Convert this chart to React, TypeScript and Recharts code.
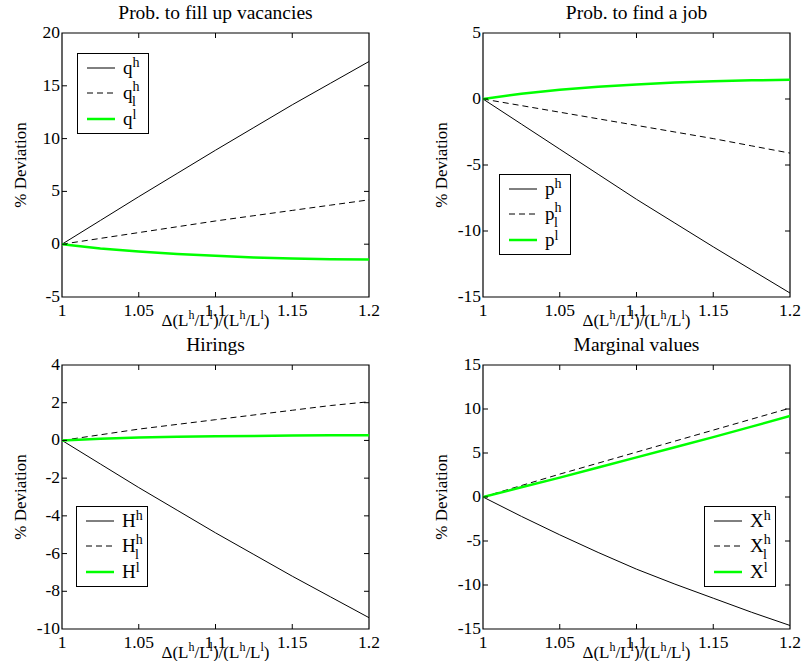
import React from 'react';
import { LineChart, Line, XAxis, YAxis, ReferenceArea } from 'recharts';

const xs = [1, 1.025, 1.05, 1.075, 1.1, 1.125, 1.15, 1.175, 1.2];
const xTicks = [1, 1.05, 1.1, 1.15, 1.2];

const qHigh = [0, 2.25, 4.5, 6.7, 8.9, 11.05, 13.2, 15.25, 17.3];
const qRel = [0, 0.55, 1.1, 1.65, 2.2, 2.7, 3.2, 3.7, 4.2];
const qLow = [0, -0.4, -0.7, -0.92, -1.1, -1.25, -1.35, -1.42, -1.45];

const pHigh = [0, -1.9, -3.8, -5.7, -7.6, -9.4, -11.2, -12.95, -14.7];
const pRel = [0, -0.5, -1.0, -1.5, -2.0, -2.5, -3.0, -3.55, -4.1];
const pLow = [0, 0.4, 0.7, 0.92, 1.1, 1.25, 1.35, 1.42, 1.45];

const hHigh = [0, -1.25, -2.5, -3.7, -4.9, -6.05, -7.2, -8.3, -9.4];
const hRel = [0, 0.3, 0.6, 0.85, 1.1, 1.35, 1.6, 1.85, 2.05];
const hLow = [0, 0.09, 0.15, 0.19, 0.22, 0.24, 0.26, 0.27, 0.28];

const xHigh = [0, -2.2, -4.3, -6.3, -8.2, -9.9, -11.5, -13.1, -14.6];
const xRel = [0, 1.3, 2.6, 3.85, 5.1, 6.35, 7.6, 8.85, 10.1];
const xLow = [0, 1.1, 2.2, 3.35, 4.5, 5.65, 6.8, 8.0, 9.2];

const ticksTL = [-5, 0, 5, 10, 15, 20];
const ticksTR = [-15, -10, -5, 0, 5];
const ticksBL = [-10, -8, -6, -4, -2, 0, 2, 4];
const ticksBR = [-15, -10, -5, 0, 5, 10, 15];

const titles = ['Prob. to fill up vacancies', 'Prob. to find a job', 'Hirings', 'Marginal values'];
const symbols = ['q', 'p', 'H', 'X'];

const FONT = '"Liberation Serif", "Times New Roman", serif';
const GREEN = '#00ff00';
const TXT: React.CSSProperties = { fontFamily: FONT };

const build = (a: number[], b: number[], c: number[]) =>
  xs.map((x, i) => ({ x, hi: a[i], rel: b[i], lo: c[i] }));

const fmt = (v: number) => String(v);

type Box = { l: number; r: number; t: number; b: number };

const makeXTick = (box: Box) => (props: any) => {
  const { x, payload } = props;
  const inner = payload.value !== 1 && payload.value !== 1.2;
  return (
    <g>
      {inner && <line x1={x} x2={x} y1={box.b} y2={box.b - 5} stroke="#000" strokeWidth={1} />}
      {inner && <line x1={x} x2={x} y1={box.t} y2={box.t + 5} stroke="#000" strokeWidth={1} />}
      <text x={x} y={box.b + 19} textAnchor="middle" fontSize={17.5} fill="#000" style={TXT}>
        {fmt(payload.value)}
      </text>
    </g>
  );
};

const makeYTick = (box: Box, ends: [number, number]) => (props: any) => {
  const { y, payload } = props;
  const inner = payload.value !== ends[0] && payload.value !== ends[1];
  return (
    <g>
      {inner && <line x1={box.l} x2={box.l + 5} y1={y} y2={y} stroke="#000" strokeWidth={1} />}
      {inner && <line x1={box.r} x2={box.r - 5} y1={y} y2={y} stroke="#000" strokeWidth={1} />}
      <text x={box.l - 2} y={y + 5} textAnchor="end" fontSize={17.5} fill="#000" style={TXT}>
        {fmt(payload.value)}
      </text>
    </g>
  );
};

const makeFrameLabel = (title: string) => (props: any) => {
  const vb = props.viewBox || {};
  const cx = vb.x + vb.width / 2;
  const cy = vb.y + vb.height / 2;
  const lx = vb.x - 36;
  const by = vb.y + vb.height + 29;
  return (
    <g style={TXT} fill="#000">
      <text x={cx} y={vb.y - 14} textAnchor="middle" fontSize={19.5} style={TXT}>{title}</text>
      <text x={lx} y={cy} textAnchor="middle" fontSize={17} style={TXT}
        transform={`rotate(-90 ${lx} ${cy})`}>% Deviation</text>
      <text x={cx} y={by} textAnchor="middle" fontSize={17} style={TXT}>
        Δ(L<tspan dy={-7} fontSize={12}>h</tspan>
        <tspan dy={7}>/L</tspan>
        <tspan dy={-7} fontSize={12}>l</tspan>
        <tspan dy={7}>)/(L</tspan>
        <tspan dy={-7} fontSize={12}>h</tspan>
        <tspan dy={7}>/L</tspan>
        <tspan dy={-7} fontSize={12}>l</tspan>
        <tspan dy={7}>)</tspan>
      </text>
    </g>
  );
};

type PanelProps = {
  left: number; top: number; width: number; height: number;
  margin: { top: number; left: number; right: number; bottom: number };
  data: any[]; yDomain: [number, number]; yTicks: number[]; title: string;
};

const Panel = ({ left, top, width, height, margin, data, yDomain, yTicks, title }: PanelProps) => {
  const box: Box = {
    l: margin.left + 40,
    r: width - margin.right,
    t: margin.top,
    b: height - margin.bottom - 20,
  };
  const FrameLabel = makeFrameLabel(title);
  return (
    <div style={{ position: 'absolute', left, top, width, height }}>
      <LineChart width={width} height={height} data={data} margin={margin}>
        <XAxis dataKey="x" type="number" domain={[1, 1.2]} ticks={xTicks} allowDataOverflow
          axisLine={false} tickLine={false} tickSize={0} tickMargin={0} height={20}
          tick={makeXTick(box)} interval={0} />
        <YAxis type="number" domain={yDomain} ticks={yTicks} allowDataOverflow
          axisLine={false} tickLine={false} tickSize={0} tickMargin={0} width={40} interval={0}
          tick={makeYTick(box, yDomain)} />
        <ReferenceArea x1={1} x2={1.2} y1={yDomain[0]} y2={yDomain[1]} fill="none"
          stroke="#000" strokeWidth={1.2} fillOpacity={0} label={<FrameLabel />} />
        <Line dataKey="hi" stroke="#000" strokeWidth={1} dot={false} isAnimationActive={false} />
        <Line dataKey="rel" stroke="#000" strokeWidth={1} strokeDasharray="6 4" dot={false} isAnimationActive={false} />
        <Line dataKey="lo" stroke={GREEN} strokeWidth={2.5} dot={false} isAnimationActive={false} />
      </LineChart>
    </div>
  );
};

const LegendBox = ({ left, top, sym }: { left: number; top: number; sym: string }) => {
  const wide = sym === 'H' || sym === 'X';
  return (
    <div style={{ position: 'absolute', left, top, width: 72, height: 81, border: '1.2px solid #000', background: '#fff', boxSizing: 'border-box' }}>
      <svg width={70} height={79} style={{ display: 'block' }}>
        <line x1={9} x2={37} y1={14} y2={14} stroke="#000" strokeWidth={1} />
        <line x1={9} x2={37} y1={39} y2={39} stroke="#000" strokeWidth={1} strokeDasharray="6 4" />
        <line x1={9} x2={37} y1={65} y2={65} stroke={GREEN} strokeWidth={2.5} />
        <g fill="#000" style={TXT}>
          <text x={45} y={20} fontSize={19} style={TXT}>{sym}<tspan dy={-7} fontSize={14}>h</tspan></text>
          <text x={45} y={45} fontSize={19} style={TXT}>{sym}<tspan dy={-8} fontSize={14}>h</tspan></text>
          <text x={wide ? 58 : 54} y={52} fontSize={14} style={TXT}>l</text>
          <text x={45} y={71} fontSize={19} style={TXT}>{sym}<tspan dy={-6} fontSize={14}>l</tspan></text>
        </g>
      </svg>
    </div>
  );
};

export default function App() {
  return (
    <div style={{ position: 'absolute', left: 0, top: 0, width: 807, height: 661, background: '#fff', overflow: 'hidden', fontFamily: FONT }}>
      <Panel left={0} top={0} width={403} height={330}
        margin={{ top: 33, left: 22, right: 34, bottom: 13 }}
        data={build(qHigh, qRel, qLow)} yDomain={[-5, 20]} yTicks={ticksTL} title={titles[0]} />
      <Panel left={403} top={0} width={404} height={330}
        margin={{ top: 33, left: 40, right: 17, bottom: 13 }}
        data={build(pHigh, pRel, pLow)} yDomain={[-15, 5]} yTicks={ticksTR} title={titles[1]} />
      <Panel left={0} top={330} width={403} height={331}
        margin={{ top: 35, left: 22, right: 34, bottom: 12 }}
        data={build(hHigh, hRel, hLow)} yDomain={[-10, 4]} yTicks={ticksBL} title={titles[2]} />
      <Panel left={403} top={330} width={404} height={331}
        margin={{ top: 35, left: 40, right: 17, bottom: 12 }}
        data={build(xHigh, xRel, xLow)} yDomain={[-15, 15]} yTicks={ticksBR} title={titles[3]} />
      <LegendBox left={77} top={53} sym={symbols[0]} />
      <LegendBox left={499} top={174} sym={symbols[1]} />
      <LegendBox left={76} top={506} sym={symbols[2]} />
      <LegendBox left={704} top={506} sym={symbols[3]} />
    </div>
  );
}
